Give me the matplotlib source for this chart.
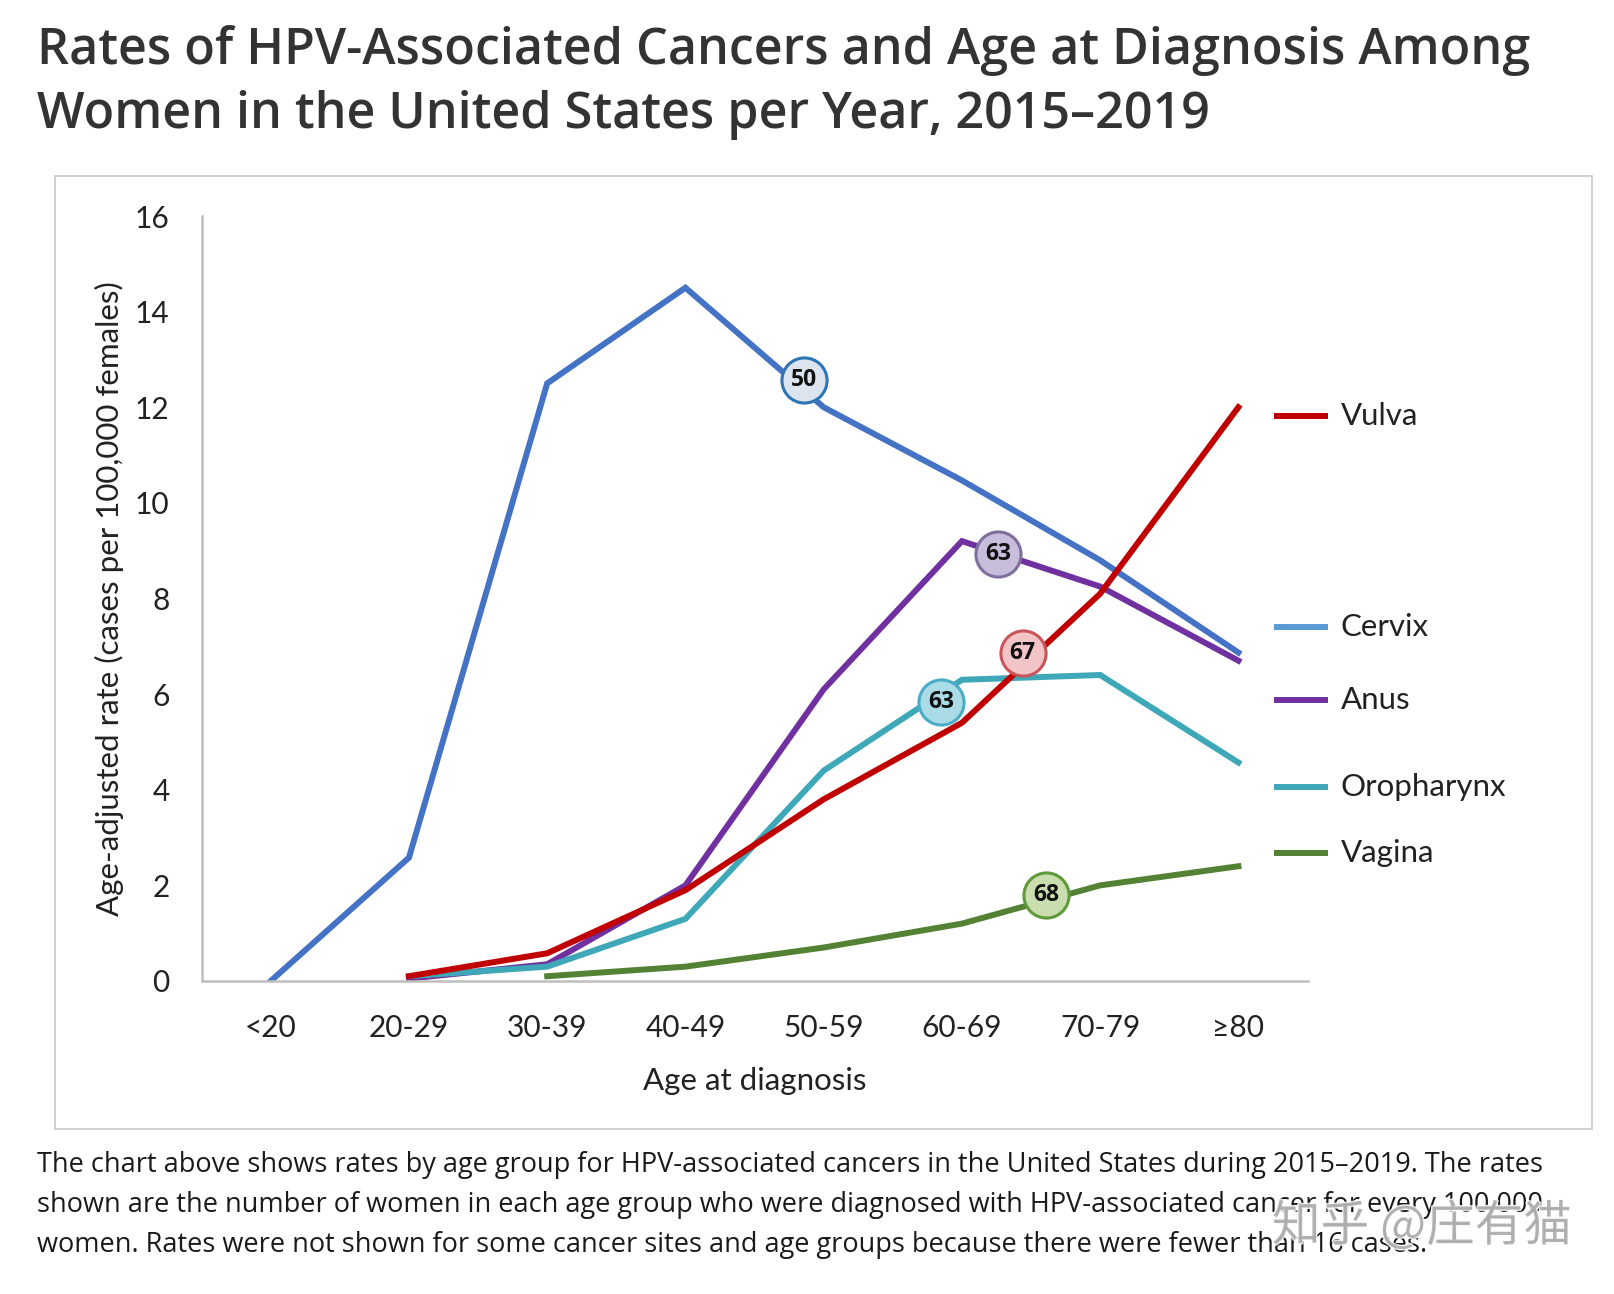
import numpy as np
import matplotlib as mlt
mlt.use('Agg')
import matplotlib.pyplot as plt
import matplotlib.patches as mpatches
import matplotlib.patheffects as pe

# data
ages = ['<20', '20-29', '30-39', '40-49', '50-59', '60-69', '70-79', '≥80']
cervix = [0.0, 2.58, 12.5, 14.5, 12.0, 10.47, 8.8, 6.87]
vulva = [None, 0.1, 0.58, 1.9, 3.8, 5.4, 8.1, 12.0]
anus = [None, 0.05, 0.35, 2.0, 6.1, 9.2, 8.25, 6.7]
oropharynx = [None, 0.1, 0.3, 1.3, 4.4, 6.3, 6.4, 4.57]
vagina = [None, None, 0.1, 0.3, 0.7, 1.2, 2.0, 2.4]

# median age bubbles (position along age axis, rate, label)
median_x = [3.86, 5.26, 5.44, 4.85, 5.61]
median_y = [12.58, 8.94, 6.85, 5.84, 1.79]
median_age = ['50', '63', '67', '63', '68']

series_names = ['Cervix', 'Anus', 'Oropharynx', 'Vagina', 'Vulva']
legend_y = [7.41, 5.88, 4.05, 2.67, 11.82]

colorCervix = '#4472C4'
colorVulva = '#C00000'
colorAnus = '#7030A0'
colorOro = '#3EA8B8'
colorVagina = '#548235'
lineColors = [colorCervix, colorAnus, colorOro, colorVagina, colorVulva]
legendColors = ['#5B9BD5', colorAnus, colorOro, colorVagina, colorVulva]
bubbleFace = ['#DCE4EF', '#C8BEDC', '#F2C4C8', '#A9DCE6', '#C9DDAE']
bubbleEdge = ['#2E75B6', '#7F6F9C', '#C9545A', '#4BACC6', '#5E9A3A']

fontSize = 22.5
tickSize = 21.5
chartFont = 'Lato'
textFont = 'Open Sans'

fig = plt.figure(figsize=(16.14, 12.94), dpi=100)
fig.patch.set_facecolor('white')

# frame around chart
fig.patches.append(mpatches.Rectangle((55/1614, 1 - 1129/1294), (1592-55)/1614, (1129-176)/1294,
                                      transform=fig.transFigure, fill=False, edgecolor='#C8C8C8', linewidth=1.2))

axes = fig.add_axes([201.6/1614, 1 - 981/1294, (1307.5-201.6)/1614, (981-216)/1294])
x = np.arange(len(ages))
data = [cervix, anus, oropharynx, vagina, vulva]
for vals, c in zip(data, lineColors):
    v = np.array([np.nan if d is None else d for d in vals], dtype=float)
    axes.plot(x, v, color=c, linewidth=4.3, solid_joinstyle='miter', zorder=2)

for i in range(len(median_x)):
    axes.plot(median_x[i], median_y[i], marker='o', markersize=32.5, markerfacecolor=bubbleFace[i],
              markeredgecolor=bubbleEdge[i], markeredgewidth=2.2, zorder=4)
    axes.text(median_x[i], median_y[i], median_age[i], ha='center', va='center', fontsize=16.5,
              fontweight='bold', family=textFont, color='#111111', zorder=5)

# legend drawn at line ends
for name, c, ly in zip(series_names, legendColors, legend_y):
    axes.plot([7.26, 7.65], [ly, ly], color=c, linewidth=4.3, clip_on=False, solid_capstyle='butt')
    axes.text(7.74, ly, name, ha='left', va='center', fontsize=fontSize, family=chartFont, color='#222222')

axes.set_xlim(-0.5, 7.5)
axes.set_ylim(0, 16)
axes.set_xticks(x)
axes.set_xticklabels(ages)
axes.set_yticks(np.arange(0, 17, 2))
axes.tick_params(length=0, labelsize=tickSize, colors='#222222')
axes.tick_params(axis='y', pad=23)
axes.tick_params(axis='x', pad=24)
for lab in axes.get_xticklabels() + axes.get_yticklabels():
    lab.set_family(chartFont)
axes.spines['right'].set_visible(False)
axes.spines['top'].set_visible(False)
axes.spines['left'].set_color('#BFBFBF')
axes.spines['bottom'].set_color('#BFBFBF')
axes.spines['left'].set_linewidth(1.8)
axes.spines['bottom'].set_linewidth(1.8)
axes.set_xlabel('Age at diagnosis', fontsize=fontSize, family=chartFont, color='#222222', labelpad=18)
axes.set_ylabel('Age-adjusted rate (cases per 100,000 females)', fontsize=fontSize, family=chartFont,
                color='#222222', labelpad=8)

# title
fig.text(37/1614, 1 - 50/1294, 'Rates of HPV-Associated Cancers and Age at Diagnosis Among',
         fontsize=36.2, family=textFont, fontweight='semibold', color='#333333', va='center', ha='left')
fig.text(37/1614, 1 - 115/1294, 'Women in the United States per Year, 2015–2019',
         fontsize=36.2, family=textFont, fontweight='semibold', color='#333333', va='center', ha='left')

caption = ['The chart above shows rates by age group for HPV-associated cancers in the United States during 2015–2019. The rates',
           'shown are the number of women in each age group who were diagnosed with HPV-associated cancer for every 100,000',
           'women. Rates were not shown for some cancer sites and age groups because there were fewer than 16 cases.']
for i, line in enumerate(caption):
    fig.text(37/1614, 1 - (1165 + 40*i)/1294, line, fontsize=19.5, family=textFont, color='#1A1A1A',
             va='center', ha='left')

# watermark
fig.text(1272/1614, 1 - 1227/1294, '知乎 @庄有猫', fontsize=35, family=['Noto Sans CJK SC', 'DejaVu Sans'],
         color='#A8A8A8', alpha=0.85, va='center', ha='left',
         path_effects=[pe.withStroke(linewidth=2, foreground='white')])

plt.savefig('out.png', dpi=100)
